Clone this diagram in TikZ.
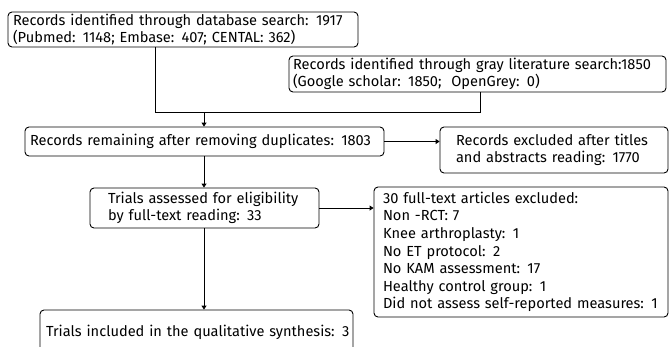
\documentclass[tikz,border=0pt]{standalone}
\usepackage{fontspec}
\setmainfont{Fira Sans}
\usetikzlibrary{arrows.meta}
\newcommand{\oneline}[1]{\mbox{#1}}
\begin{document}
\begin{tikzpicture}[x=1pt,y=-1pt,
  box/.style={draw, line width=0.9pt, rounded corners=4pt, inner xsep=5pt, inner ysep=0pt,
    align=left, anchor=center, font=\fontsize{14.6}{17.6}\selectfont},
  link/.style={line width=0.9pt},
  arr/.style={line width=0.9pt, -{Triangle[length=4pt,width=5pt]}}]
\useasboundingbox (0,0) rectangle (669,346);
\clip (0,0) rectangle (669,346);

\node[box, minimum width=350, minimum height=35, text width=340] (db) at (183,29.5)
  {\oneline{Records identified through database search: 1917}\\\oneline{(Pubmed: 1148; Embase: 407; CENTAL: 362)}};
\node[box, minimum width=377, minimum height=36, text width=369, inner xsep=4pt] (gray) at (477.5,74)
  {\oneline{Records identified through gray literature search:1850}\\\oneline{(Google scholar: 1850;\ \ OpenGrey: 0)}};
\node[box, minimum width=359, minimum height=29, text width=349] (dup) at (204.5,141.5)
  {\oneline{Records remaining after removing duplicates: 1803}};
\node[box, minimum width=228, minimum height=46, text width=196, inner xsep=16pt] (excl) at (554,150)
  {\oneline{Records excluded after titles}\\\oneline{and abstracts reading: 1770}};
\node[box, minimum width=229, minimum height=40, text width=193, inner xsep=18pt] (elig) at (204.5,208)
  {\oneline{Trials assessed for eligibility}\\\oneline{by full-text reading: 33}};
\node[box, minimum width=294, minimum height=130, text width=276, inner xsep=9pt] (full) at (521,252)
  {\oneline{30 full-text articles excluded:}\\\oneline{Non -RCT: 7}\\\oneline{Knee arthroplasty: 1}\\\oneline{No ET protocol: 2}\\\oneline{No KAM assessment: 17}\\\oneline{Healthy control group: 1}\\\oneline{Did not assess self-reported measures: 1}};
\node[box, minimum width=313, minimum height=44, text width=301, inner xsep=6pt] (incl) at (196.5,332)
  {\oneline{Trials included in the qualitative synthesis: 3}};

% merge of the two search branches
\coordinate (mL) at (155,112);
\coordinate (mR) at (480,112);
\coordinate (mC) at (204,112);
\draw[link] (db.south -| mL) -- (mL) -- (mR) -- (gray.south -| mR);
\draw[arr] (mC) -- (dup.north -| mC);
\draw[arr] (dup.east) -- (excl.west |- dup.east);
\draw[arr] (dup.south -| mC) -- (elig.north -| mC);
\draw[arr] (elig.east) -- (full.west |- elig.east);
\draw[arr] (elig.south -| mC) -- (incl.north -| mC);
\end{tikzpicture}
\end{document}
